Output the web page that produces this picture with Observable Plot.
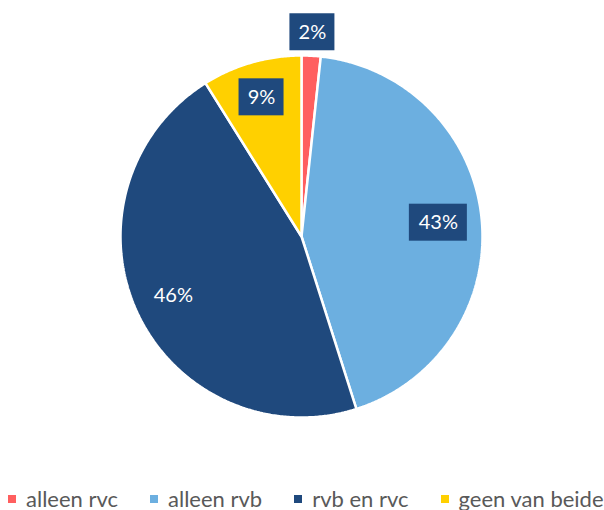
<!DOCTYPE html>
<html>
<head>
<meta charset="utf-8">
<script src="https://cdn.jsdelivr.net/npm/d3@7"></script>
<script src="https://cdn.jsdelivr.net/npm/@observablehq/plot@0.6"></script>
<style>
  html, body { margin: 0; padding: 0; background: #fff; }
  #wrap { position: relative; width: 604px; height: 510px; overflow: hidden; font-family: Lato, "Open Sans", sans-serif; }
  #legend { position: absolute; left: 8px; top: 486px; white-space: nowrap; font-size: 22px; line-height: 1.2; color: #595959; }
  .item { display: inline-block; margin-right: 32px; }
  .sw { display: inline-block; width: 8px; height: 8px; margin-right: 10px; vertical-align: 4px; }
</style>
</head>
<body>
<div id="wrap"><div id="chart"></div><div id="legend"></div></div>
<script>
const categories = ["alleen rvc", "alleen rvb", "rvb en rvc", "geen van beide"];
const values = [1.7, 43.4, 46.0, 8.9];
const colors = ["#FF5F5F", "#6CAFE0", "#1F497D", "#FFD000"];
const labelRadius = [1.13, 0.76, 0.78, 0.8];
const boxColor = "#1F497D";

const total = d3.sum(values);
const slices = [];
const labels = [];
let acc = 0;
categories.forEach((c, i) => {
  const a0 = acc / total * 2 * Math.PI;
  acc += values[i];
  const a1 = acc / total * 2 * Math.PI;
  const n = Math.max(2, Math.ceil((a1 - a0) / (Math.PI / 360)));
  slices.push({cat: c, x: 0, y: 0});
  for (let k = 0; k <= n; k++) {
    const a = a0 + (a1 - a0) * k / n;
    slices.push({cat: c, x: Math.sin(a), y: Math.cos(a)});
  }
  const m = (a0 + a1) / 2;
  labels.push({cat: c, label: Math.round(values[i] / total * 100) + "%", x: Math.sin(m) * labelRadius[i], y: Math.cos(m) * labelRadius[i]});
});

const boxes = (len, hw) => Plot.rect(labels, {
  filter: d => d.label.length === len && d.cat !== "rvb en rvc",
  x1: "x", x2: "x", y1: "y", y2: "y",
  insetLeft: -hw, insetRight: -hw, insetTop: -18.5, insetBottom: -18.5,
  fill: boxColor
});

const plot = Plot.plot({
  width: 604,
  height: 470,
  marginLeft: 120,
  marginRight: 122,
  marginTop: 55,
  marginBottom: 53,
  x: {domain: [-1, 1], axis: null},
  y: {domain: [-1, 1], axis: null},
  color: {domain: categories, range: colors},
  style: {fontFamily: "Lato, 'Open Sans', sans-serif", background: "white"},
  marks: [
    Plot.line(slices, {x: "x", y: "y", z: "cat", fill: "cat", stroke: "white", strokeWidth: 2.5, curve: "linear-closed", strokeLinejoin: "miter"}),
    boxes(2, 22.5),
    boxes(3, 29),
    Plot.text(labels, {x: "x", y: "y", text: "label", fill: "white", fontSize: 20})
  ]
});
document.getElementById("chart").appendChild(plot);

const legend = document.getElementById("legend");
categories.forEach((c, i) => {
  const item = document.createElement("span");
  item.className = "item";
  const sw = document.createElement("span");
  sw.className = "sw";
  sw.style.background = colors[i];
  item.appendChild(sw);
  item.appendChild(document.createTextNode(c));
  legend.appendChild(item);
});
</script>
</body>
</html>
